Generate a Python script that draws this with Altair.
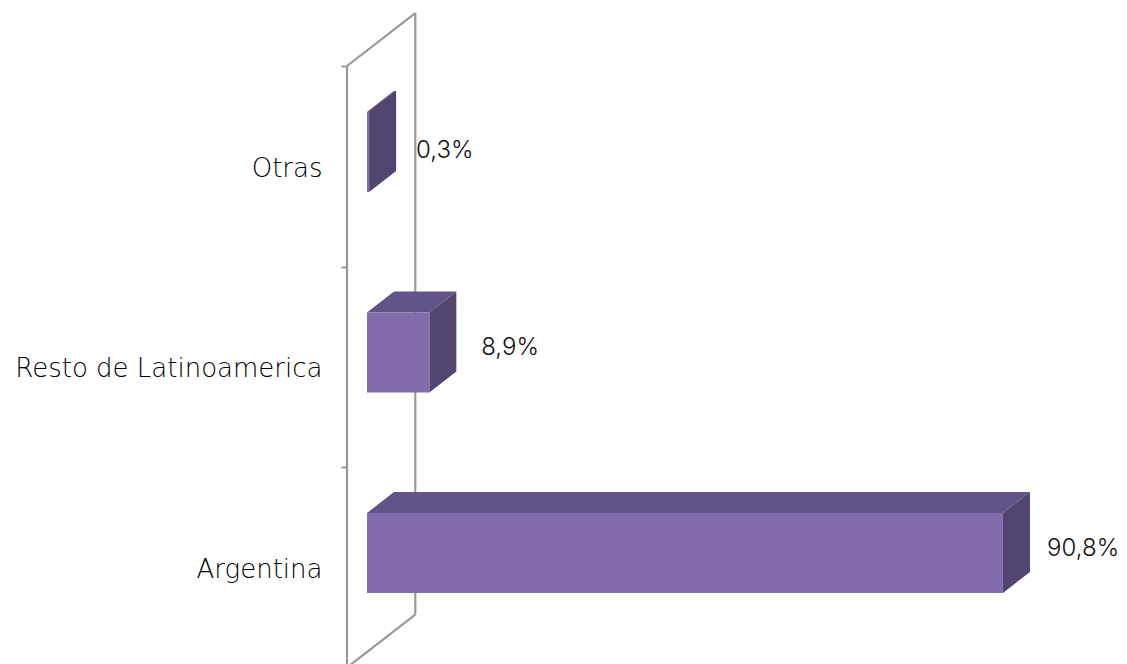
import altair as alt
import pandas as pd

categories = ["Argentina", "Resto de Latinoamerica", "Otras"]
values = [90.8, 8.9, 0.3]
labels = ["90,8%", "8,9%", "0,3%"]
label_gap = [2.45, 3.55, 2.85]
label_rise = [0.59, 0.595, 0.575]
FONT = "Inter"
AXIS_FONT = "DejaVu Sans"
FS = 24
TXT = "#111111"

# scale: 7.004 px per percent, 200.5 px per category
DX, DY = 3.855, 0.105      # bar depth
WX, WY = 9.75, 0.264       # wall depth
BASE, H = 0.3716, 0.399
XMIN = -2.855

faces, fronts, texts = [], [], []
for i, (c, v, l, g, r) in enumerate(zip(categories, values, labels, label_gap, label_rise)):
    y0, y1 = i + BASE, i + BASE + H
    fronts.append(dict(cat=c, x=0, x2=v, y=y0, y2=y1))
    if v > DX:
        top = [(0, y1, y1), (DX, y1, y1 + DY), (v, y1, y1 + DY), (v + DX, y1 + DY, y1 + DY)]
    else:
        top = [(0, y1, y1), (v, y1, y1 + DY * v / DX), (DX, y1 + DY * v / DX, y1 + DY), (v + DX, y1 + DY, y1 + DY)]
    for x, a, b in top:
        faces.append(dict(id=f"t{i}", face="top", x=x, y=a, y2=b))
    for x, a, b in [(v, y0, y1), (v + DX, y0 + DY, y1 + DY)]:
        faces.append(dict(id=f"s{i}", face="side", x=x, y=a, y2=b))
    texts.append(dict(t=l, x=v + DX + g, y=i + r))

wall = pd.DataFrame([
    dict(id=n, k=k, x=x, y=y) for n, pts in {
        "a": [(XMIN, 0), (XMIN, 3)],
        "b": [(XMIN, 3), (XMIN + WX, 3 + WY)],
        "c": [(XMIN + WX, 3 + WY), (XMIN + WX, WY)],
        "d": [(XMIN + WX, WY), (XMIN, 0)],
    }.items() for k, (x, y) in enumerate(pts)
])

xs = alt.Scale(domain=[XMIN, XMIN + 772 / 7.004], nice=False, zero=False)
ys = alt.Scale(domain=[0.0175, 3], nice=False, zero=False)
ax = alt.Axis(
    values=[0, 0.5, 1, 1.5, 2, 2.5, 3], title=None, domain=False, grid=False,
    tickSize=6, tickColor="#999999", tickWidth=2,
    tickOpacity={"condition": {"test": "datum.value % 1 != 0", "value": 0}, "value": 1},
    labelExpr="datum.value == 0.5 ? 'Argentina' : datum.value == 1.5 ? 'Resto de Latinoamerica' : datum.value == 2.5 ? 'Otras' : ''",
    labelPadding=19, labelFont=AXIS_FONT, labelFontSize=26, labelFontWeight=200, labelColor="#000000",
    labelBound=False, labelOverlap=False, labelLimit=400, labelOffset=2)
X = alt.X("x:Q", scale=xs, axis=None)
Y = alt.Y("y:Q", scale=ys, axis=ax)

wall_l = alt.Chart(wall).mark_line(color="#999999", strokeWidth=2.2).encode(
    x=X, y=Y, detail="id:N", order="k:Q")

color = alt.Color("face:N", legend=None,
                  scale=alt.Scale(domain=["top", "side"], range=["#625388", "#524670"]))
faces_l = alt.Chart(pd.DataFrame(faces)).mark_area(opacity=1).encode(
    x=X, y=Y, y2="y2:Q", color=color, detail="id:N")

front_l = alt.Chart(pd.DataFrame(fronts)).mark_rect(color="#826cac").encode(
    x=X, x2="x2:Q", y=Y, y2="y2:Q")

text_l = alt.Chart(pd.DataFrame(texts)).mark_text(
    align="left", baseline="middle", font=FONT, fontSize=FS, fontWeight=300, color=TXT).encode(
    x=X, y=Y, text="t:N")

chart = alt.layer(wall_l, faces_l, front_l, text_l).properties(
    width=772, height=598,
    padding={"left": 339, "top": 58, "right": 0, "bottom": 0},
    autosize=alt.AutoSizeParams(type="none"),
).configure_view(stroke=None)

chart.save("out.html", embed_options={"renderer": "svg", "actions": False})
